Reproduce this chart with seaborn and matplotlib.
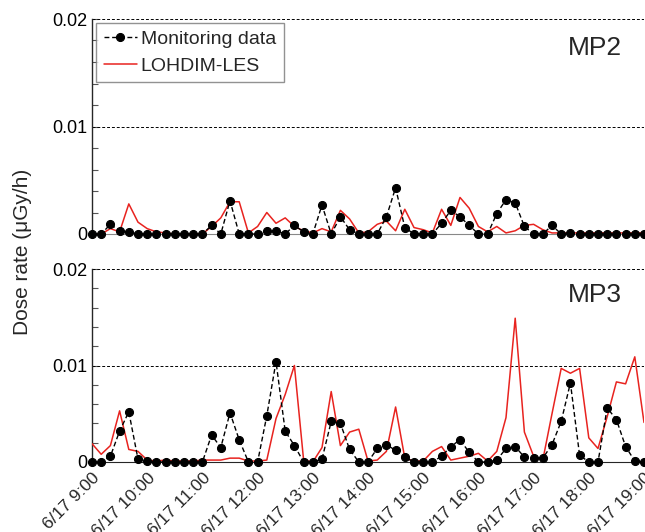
import numpy as np
import pandas as pd
import seaborn as sns
import matplotlib.pyplot as plt
import matplotlib.dates as mdates
from matplotlib.ticker import MultipleLocator, FuncFormatter

# 10-minute samples, 6/17 9:00 - 19:00
times = pd.date_range("2011-06-17 09:00", "2011-06-17 19:00", freq="10min")

mp2_monitoring = [
    0, 0, 0.0009, 0.0003, 0.0002, 0, 0, 0, 0, 0, 0, 0, 0, 0.0008, 0, 0.0031,
    0, 0, 0, 0.0003, 0.0003, 0, 0.0008, 0.0002, 0, 0.0027, 0, 0.0016, 0.0004, 0,
    0, 0, 0.0016, 0.0043, 0.0006, 0, 0, 0, 0.0010, 0.0022, 0.0016, 0.0008, 0, 0,
    0.0019, 0.0032, 0.0029, 0.0007, 0, 0, 0.0008, 0, 0.0001, 0, 0, 0, 0, 0, 0, 0, 0,
]
mp2_les = [
    0, 0, 0.0005, 0.0002, 0.0028, 0.0011, 0.0005, 0.0002, 0.0001, 0, 0, 0, 0,
    0.0007, 0.0015, 0.0030, 0.0030, 0.0001, 0.0007, 0.0020, 0.0010, 0.0015, 0.0007,
    0.0003, 0.0001, 0.0005, 0.0002, 0.0022, 0.0014, 0.0001, 0.0002, 0.0009, 0.0012,
    0.0003, 0.0023, 0.0006, 0.0004, 0.0001, 0.0023, 0.0008, 0.0034, 0.0024, 0.0007,
    0.0002, 0.0007, 0.0001, 0.0003, 0.0008, 0.0009, 0.0004, 0.0001, 0.0001, 0.0001,
    0.0001, 0.0001, 0.0001, 0.0001, 0.0001, 0.0001, 0.0001, 0.0001,
]
mp3_monitoring = [
    0, 0, 0.0006, 0.0032, 0.0052, 0.0003, 0.0001, 0, 0, 0, 0, 0, 0, 0.0028, 0.0015,
    0.0051, 0.0023, 0, 0, 0.0048, 0.0104, 0.0032, 0.0017, 0, 0, 0.0003, 0.0042,
    0.0040, 0.0013, 0, 0, 0.0014, 0.0018, 0.0012, 0.0005, 0, 0, 0, 0.0006, 0.0016,
    0.0023, 0.0010, 0, 0, 0.0002, 0.0014, 0.0016, 0.0005, 0.0004, 0.0004, 0.0018,
    0.0042, 0.0082, 0.0007, 0, 0, 0.0056, 0.0044, 0.0016, 0.0001, 0,
]
mp3_les = [
    0.0019, 0.0008, 0.0017, 0.0053, 0.0013, 0.0011, 0.0002, 0.0001, 0.0002, 0.0001,
    0.0001, 0.0001, 0.0002, 0.0002, 0.0002, 0.0004, 0.0004, 0.0001, 0.0001, 0.0002,
    0.0045, 0.0070, 0.0100, 0.0002, 0, 0.0015, 0.0073, 0.0017, 0.0031, 0.0034,
    0.0001, 0.0002, 0.0011, 0.0057, 0.0004, 0.0001, 0.0001, 0.0011, 0.0016, 0.0002,
    0.0004, 0.0006, 0.0009, 0.0001, 0.0011, 0.0046, 0.0149, 0.0031, 0.0006, 0.0002,
    0.0050, 0.0097, 0.0092, 0.0097, 0.0025, 0.0014, 0.0047, 0.0083, 0.0081, 0.0109,
    0.0041,
]

df = pd.DataFrame({
    "time": times,
    "mp2_obs": mp2_monitoring,
    "mp2_les": mp2_les,
    "mp3_obs": mp3_monitoring,
    "mp3_les": mp3_les,
})

sns.set_style("ticks")
plt.rcParams["font.family"] = ["Liberation Sans", "DejaVu Sans"]

fig = plt.figure(figsize=(6.45, 5.32), dpi=100)
ax_top = fig.add_axes([92 / 645, 1 - 234 / 532, 552 / 645, 215 / 532])
ax_bot = fig.add_axes([92 / 645, 1 - 462 / 532, 552 / 645, 193 / 532])


def fmt_time(x, pos):
    d = mdates.num2date(x)
    return f"{d.month}/{d.day} {d.hour}:{d.minute:02d}"


for ax, obs, les, name in [(ax_top, "mp2_obs", "mp2_les", "MP2"),
                           (ax_bot, "mp3_obs", "mp3_les", "MP3")]:
    sns.lineplot(data=df, x="time", y=obs, ax=ax, color="black", linestyle=(0, (3.5, 2)),
                 linewidth=1.0, marker="o", markersize=5.8, markeredgecolor="black",
                 label="Monitoring data", clip_on=False, zorder=4)
    sns.lineplot(data=df, x="time", y=les, ax=ax, color="#e8231f", linewidth=1.1,
                 label="LOHDIM-LES", zorder=3)
    ax.set_ylim(0, 0.02)
    ax.set_xlim(times[0], times[-1])
    ax.yaxis.set_major_locator(MultipleLocator(0.01))
    ax.yaxis.set_minor_locator(MultipleLocator(0.002))
    ax.yaxis.set_major_formatter(FuncFormatter(lambda v, p: "0" if v == 0 else f"{v:.2f}"))
    ax.tick_params(axis="y", which="both", direction="in", length=4, width=0.8,
                   colors="#555555", labelcolor="black", labelsize=13)
    ax.tick_params(axis="x", length=0, pad=6)
    for yv in (0.01, 0.02):
        ax.axhline(yv, color="black", linestyle=(0, (3, 2)), linewidth=0.7, zorder=1)
    ax.spines["top"].set_visible(False)
    ax.spines["right"].set_visible(False)
    ax.spines["left"].set_linewidth(1.0)
    ax.set_xlabel("")
    ax.set_ylabel("")
    ax.text(0.96, 0.865, name, transform=ax.transAxes, ha="right", va="center",
            fontsize=19)
    ax.xaxis.set_major_locator(mdates.HourLocator())
    ax.xaxis.set_major_formatter(FuncFormatter(fmt_time))

ax_top.spines["bottom"].set_color("#888888")
ax_top.tick_params(axis="x", labelbottom=False)
ax_bot.get_legend().remove()
leg = ax_top.legend(loc="upper left", fontsize=14, frameon=True, fancybox=False,
                    edgecolor="#777777", borderaxespad=0.2, handlelength=1.7,
                    handletextpad=0.2, borderpad=0.4, labelspacing=0.45)
leg.get_frame().set_linewidth(1.0)

for lab in ax_bot.get_xticklabels():
    lab.set_rotation(45)
    lab.set_ha("right")
    lab.set_rotation_mode("anchor")
    lab.set_fontsize(12.5)

fig.text(0.035, 1 - 252 / 532, "Dose rate (\u03bcGy/h)", rotation=90, ha="center",
         va="center", fontsize=15)

fig.savefig("out.png", dpi=100)
